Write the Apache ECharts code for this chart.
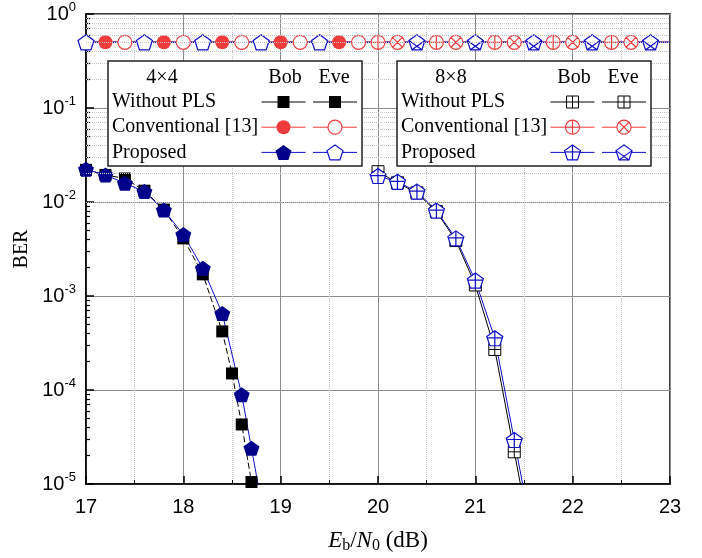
<!DOCTYPE html>
<html lang="en">
<head>
<meta charset="UTF-8">
<title>BER vs Eb/N0</title>
<script src="https://cdn.jsdelivr.net/npm/echarts@6/dist/echarts.min.js"></script>
<style>html,body{margin:0;padding:0;background:#fff}</style>
</head>
<body>
<div id="chart" style="width:702px;height:558px;"></div>
<script>
// 4x4, Bob
const snr4NoPls = [17, 17.2, 17.4, 17.6, 17.8, 18.0, 18.2, 18.4, 18.5, 18.6, 18.7];
const ber4NoPls = [0.022, 0.0194, 0.0178, 0.0132, 0.0083, 0.0041, 0.0017, 4.2e-4, 1.5e-4, 4.3e-5, 1.05e-5];
const snr4Prop = [17, 17.2, 17.4, 17.6, 17.8, 18.0, 18.2, 18.4, 18.6, 18.7, 18.8];
const ber4Prop = [0.0223, 0.0194, 0.0158, 0.0129, 0.0082, 0.0045, 0.00197, 6.5e-4, 8.9e-5, 2.4e-5, 6.5e-6];
// 8x8, Bob
const snr8 = [20.0, 20.2, 20.4, 20.6, 20.8, 21.0, 21.2, 21.4, 21.6];
const ber8NoPls = [0.021, 0.016, 0.0125, 0.0079, 0.0039, 0.00131, 2.7e-4, 2.2e-5, 1.8e-6];
const ber8Prop = [0.0189, 0.0164, 0.0129, 0.0081, 0.0041, 0.00146, 3.55e-4, 2.94e-5, 2.4e-6];
// curves stuck at 0.5: line over whole range, markers every 0.6 dB
const berFlat = 0.5;
const flatSpan = [17, 23];
const snrConv4Bob = [17.2, 17.8, 18.4, 19.0, 19.6];
const snrConv4Eve = [17.4, 18.0, 18.6, 19.2, 19.8];
const snrProp4Eve = [17.0, 17.6, 18.2, 18.8, 19.4];
const snrConv8Bob = [20.0, 20.6, 21.2, 21.8, 22.4];
const snrConv8Eve = [20.2, 20.8, 21.4, 22.0, 22.6];
const snrProp8Eve = [20.4, 21.0, 21.6, 22.2, 22.8];

const yMin = 1e-5, yMax = 1;
const yMinor = [];
for (let d = -5; d < 0; d++) for (let m = 2; m <= 9; m++) yMinor.push(+(m * Math.pow(10, d)).toPrecision(3));

const RED = '#f03c3c', NAVY = '#00008b', BLUE = '#1010c8';

// marker outlines in unit coords
const PENT_PTS = [[0, -1], [0.951, -0.309], [0.588, 0.809], [-0.588, 0.809], [-0.951, -0.309]];
const BASE = {
  sq: {bbox: [-1, -1, 1, 1], path: 'M-1,-1 L1,-1 L1,1 L-1,1 Z'},
  circ: {bbox: [-1, -1, 1, 1], path: 'M-1,0 A1,1 0 1,1 1,0 A1,1 0 1,1 -1,0 Z'},
  pent: {bbox: [-0.951, -1, 0.951, 0.809], path: 'M' + PENT_PTS.map(p => p.join(',')).join(' L') + ' Z'}
};
const PLUS = [[0, -1, 0, 1], [-1, 0, 1, 0]];
const CROSS = [[-0.707, -0.707, 0.707, 0.707], [0.707, -0.707, -0.707, 0.707]];
const PENT_PLUS = [[0, -1, 0, 0.809], [-0.9, -0.15, 0.9, -0.15]];
const PENT_X = [[-0.951, -0.309, 0.588, 0.809], [0.951, -0.309, -0.588, 0.809]];

function mk(kind, lines, w, h, fill, stroke, lw) {
  const path = BASE[kind].path + lines.map(l => ' M' + l[0] + ',' + l[1] + ' L' + l[2] + ',' + l[3]).join('');
  return {kind, lines, size: [w, h], fill, stroke, lw, path};
}
const M = {
  sqFill:   mk('sq', [], 12, 12, '#000', '#000', 0),
  sqPlus:   mk('sq', PLUS, 12, 12, '#fff', '#000', 1),
  circFill: mk('circ', [], 14, 14, RED, RED, 0),
  circOpen: mk('circ', [], 14, 14, '#fff', RED, 1.2),
  circPlus: mk('circ', PLUS, 14, 14, '#fff', RED, 1.2),
  circX:    mk('circ', CROSS, 14, 14, '#fff', RED, 1.2),
  pentFill: mk('pent', [], 16, 15, NAVY, NAVY, 0),
  pentOpen: mk('pent', [], 16, 15, '#fff', BLUE, 1.2),
  pentPlus: mk('pent', PENT_PLUS, 16, 15, '#fff', BLUE, 1.2),
  pentX:    mk('pent', PENT_X, 16, 15, '#fff', BLUE, 1.2)
};

function curve(xs, ys, m, lineColor, dashed) {
  return {
    type: 'line', clip: true, animation: false, silent: true,
    data: xs.map((x, i) => ys[i] < yMin ? {value: [x, ys[i]], symbol: 'none'} : [x, ys[i]]),
    symbol: 'path://' + m.path, symbolSize: m.size,
    itemStyle: {color: m.fill, borderColor: m.stroke, borderWidth: m.lw},
    lineStyle: {color: lineColor, width: 1, type: dashed ? [6, 3] : 'solid'}
  };
}
function flat(xs, m, lineColor) {
  const data = [{value: [flatSpan[0], berFlat], symbol: 'none'}]
    .concat(xs.map(x => [x, berFlat]))
    .concat([{value: [flatSpan[1], berFlat], symbol: 'none'}]);
  return {
    type: 'line', animation: false, silent: true, data: data,
    symbol: 'path://' + m.path, symbolSize: m.size,
    itemStyle: {color: m.fill, borderColor: m.stroke, borderWidth: m.lw},
    lineStyle: {color: lineColor, width: 1}
  };
}

// legend boxes drawn as graphics
const legendRows = ['Without PLS', 'Conventional [13]', 'Proposed'];
const legendBoxes = [
  {left: 108, title: '4\u00d74', bob: [M.sqFill, M.circFill, M.pentFill], eve: [M.sqFill, M.circOpen, M.pentOpen]},
  {left: 397, title: '8\u00d78', bob: [M.sqPlus, M.circPlus, M.pentPlus], eve: [M.sqPlus, M.circX, M.pentX]}
];
const rowColors = ['#000', RED, BLUE];
const SERIF = '"Liberation Serif", "Times New Roman", serif';
const SANS = '"Liberation Sans", Arial, sans-serif';

function txt(text, x, y, align) {
  return {type: 'text', x: x, y: y, z: 101,
    style: {text: text, fill: '#000', font: '20px ' + SERIF, align: align, verticalAlign: 'middle',
      textAlign: align, textVerticalAlign: 'middle'}};
}
function marker(m, cx, cy) {
  const b = BASE[m.kind].bbox;
  const sx = m.size[0] / (b[2] - b[0]), sy = m.size[1] / (b[3] - b[1]);
  const ox = (b[0] + b[2]) / 2, oy = (b[1] + b[3]) / 2;
  const X = u => cx + (u - ox) * sx, Y = v => cy + (v - oy) * sy;
  const style = {fill: m.fill, stroke: m.lw ? m.stroke : null, lineWidth: m.lw};
  const out = [];
  if (m.kind === 'sq') out.push({type: 'rect', z: 102, shape: {x: X(-1), y: Y(-1), width: m.size[0], height: m.size[1]}, style});
  if (m.kind === 'circ') out.push({type: 'circle', z: 102, shape: {cx: cx, cy: cy, r: m.size[0] / 2}, style});
  if (m.kind === 'pent') out.push({type: 'polygon', z: 102, shape: {points: PENT_PTS.map(p => [X(p[0]), Y(p[1])])}, style});
  m.lines.forEach(l => out.push({type: 'line', z: 103,
    shape: {x1: X(l[0]), y1: Y(l[1]), x2: X(l[2]), y2: Y(l[3])}, style: {stroke: m.stroke, lineWidth: m.lw}}));
  return out;
}
const graphics = [];
legendBoxes.forEach(b => {
  const L = b.left, top = 61;
  graphics.push({type: 'rect', z: 100, shape: {x: L, y: top, width: 254, height: 105},
    style: {fill: '#fff', stroke: '#222', lineWidth: 1.5}});
  graphics.push(txt(b.title, L + 54, 78, 'center'));
  graphics.push(txt('Bob', L + 177, 78, 'center'));
  graphics.push(txt('Eve', L + 226, 78, 'center'));
  legendRows.forEach((r, i) => {
    const y = 102 + i * 25.2;
    graphics.push(txt(r, L + 4, y, 'left'));
    [[L + 175.5, b.bob[i]], [L + 227, b.eve[i]]].forEach(([cx, m]) => {
      graphics.push({type: 'line', z: 101, shape: {x1: cx - 22, y1: y, x2: cx + 22, y2: y},
        style: {stroke: rowColors[i], lineWidth: 1}});
      marker(m, cx, y).forEach(g => graphics.push(g));
    });
  });
});

const chart = echarts.init(document.getElementById('chart'));
chart.setOption({
  animation: false,
  backgroundColor: '#fff',
  grid: {left: 86, right: 32, top: 14, bottom: 74, show: true, borderColor: '#000', borderWidth: 1.5,
    containLabel: false, outerBoundsMode: 'none'},
  xAxis: {
    type: 'value', min: 17, max: 23, interval: 1,
    axisLine: {onZero: false, lineStyle: {color: '#000', width: 1.5}},
    axisTick: {inside: true, length: 8, lineStyle: {color: '#000', width: 1.5}},
    minorTick: {show: true, splitNumber: 2, length: 4, lineStyle: {color: '#000', width: 1}},
    axisLabel: {fontSize: 20, fontFamily: SANS, color: '#000', margin: 13},
    splitLine: {show: true, lineStyle: {color: '#8c8c8c', width: 1}},
    minorSplitLine: {show: true, lineStyle: {color: '#c4c4c4', width: 1, type: 'dotted'}},
    name: '{i|E}{sb|b}{r|/}{i|N}{sb|0}{r| (dB)}',
    nameLocation: 'middle', nameGap: 44,
    nameTextStyle: {fontFamily: SERIF, fontSize: 23, color: '#000', rich: {
      i: {fontFamily: SERIF, fontSize: 23, fontStyle: 'italic', color: '#000'},
      sb: {fontFamily: SERIF, fontSize: 16, color: '#000', padding: [10, 0, 0, 0]},
      r: {fontFamily: SERIF, fontSize: 23, color: '#000'}
    }}
  },
  yAxis: [{
    type: 'log', logBase: 10, min: yMin, max: yMax,
    axisLine: {show: true, lineStyle: {color: '#000', width: 1.5}},
    axisTick: {show: true, inside: true, length: 8, lineStyle: {color: '#000', width: 1.5}},
    axisLabel: {
      margin: 10, color: '#000',
      formatter: v => '{b|10}{s|' + Math.round(Math.log10(v)) + '}',
      rich: {
        b: {fontSize: 20, fontFamily: SANS, color: '#000'},
        s: {fontSize: 13, fontFamily: SANS, color: '#000', padding: [0, 0, 13, 0]}
      }
    },
    splitLine: {show: true, lineStyle: {color: '#8c8c8c', width: 1}},
    name: 'BER', nameLocation: 'middle', nameGap: 53, nameRotate: 90,
    nameTextStyle: {fontFamily: SERIF, fontSize: 20, color: '#000'}
  }, {
    type: 'log', logBase: 10, min: yMin, max: yMax, position: 'left',
    axisLine: {show: false}, axisLabel: {show: false}, splitLine: {show: false},
    axisTick: {show: true, inside: true, length: 4, customValues: yMinor, lineStyle: {color: '#000', width: 1.2}}
  }],
  series: [
    {type: 'line', data: [], silent: true, z: 1,
      markLine: {silent: true, symbol: 'none', animation: false, label: {show: false},
        lineStyle: {type: 'dotted', color: '#c4c4c4', width: 1},
        data: yMinor.map(v => ({yAxis: v}))}},
    flat(snrConv4Bob, M.circFill, RED),
    flat(snrConv4Eve, M.circOpen, RED),
    flat(snrConv8Bob, M.circPlus, RED),
    flat(snrConv8Eve, M.circX, RED),
    flat(snrProp4Eve, M.pentOpen, BLUE),
    flat(snrProp8Eve, M.pentX, BLUE),
    curve(snr4NoPls, ber4NoPls, M.sqFill, '#000', true),
    curve(snr4Prop, ber4Prop, M.pentFill, BLUE, false),
    curve(snr8, ber8NoPls, M.sqPlus, '#000', false),
    curve(snr8, ber8Prop, M.pentPlus, BLUE, false)
  ],
  graphic: graphics
});
</script>
</body>
</html>
